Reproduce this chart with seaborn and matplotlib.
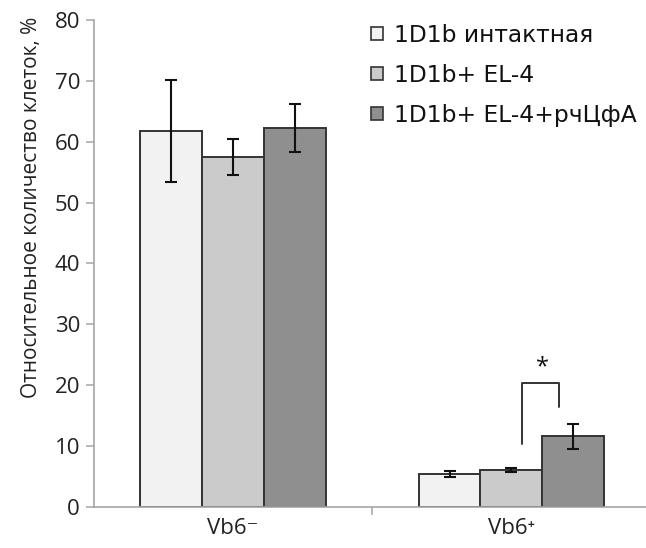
import matplotlib
matplotlib.use("Agg")
import matplotlib.pyplot as plt
import seaborn as sns
import pandas as pd
import numpy as np
from matplotlib.patches import Patch

categories = ["Vb6\u207b", "Vb6\u207a"]
groups = ["1D1b интактная", "1D1b+ EL-4", "1D1b+ EL-4+рчЦфА"]
values = {
    "1D1b интактная": [61.8, 5.4],
    "1D1b+ EL-4": [57.5, 6.0],
    "1D1b+ EL-4+рчЦфА": [62.2, 11.55],
}
errors = {
    "1D1b интактная": [8.4, 0.5],
    "1D1b+ EL-4": [2.9, 0.3],
    "1D1b+ EL-4+рчЦфА": [3.95, 2.05],
}
colors = ["#f2f2f2", "#cbcbcb", "#8f8f8f"]
yticks = [0, 10, 20, 30, 40, 50, 60, 70, 80]

rows = []
for g in groups:
    for c, v in zip(categories, values[g]):
        rows.append({"cat": c, "group": g, "val": v})
df = pd.DataFrame(rows)

sns.set_style("white")
plt.rcParams["font.family"] = ["Open Sans", "DejaVu Sans"]

fig = plt.figure(figsize=(6.46, 5.48), dpi=100)
ax = fig.add_axes([94 / 646, 1 - 506.7 / 548, (646 - 94) / 646, (506.7 - 20) / 548])

sns.barplot(data=df, x="cat", y="val", hue="group", order=categories,
            hue_order=groups, palette=colors, width=0.666, edgecolor="#333333",
            linewidth=1.4, errorbar=None, legend=False, ax=ax, saturation=1)

for cont, g in zip(ax.containers, groups):
    xs = [p.get_x() + p.get_width() / 2 for p in cont]
    ax.errorbar(xs, values[g], yerr=errors[g], fmt="none", ecolor="#111111",
                elinewidth=1.5, capsize=4.5, capthick=1.5, zorder=5)

# significance bracket
ax.plot([1.038, 1.038, 1.171, 1.171], [10.3, 20.3, 20.3, 16.35],
        color="#333333", lw=1.4, zorder=6)
ax.text(1.113, 21.0, "*", ha="center", va="bottom", fontsize=17, color="#111111")

ax.set_xlim(-0.5, 1.484)
ax.set_ylim(0, 80)
ax.set_yticks(yticks)
ax.set_xlabel("")
ax.set_ylabel("Относительное количество клеток, %", fontsize=15, color="#222222")
ax.yaxis.set_label_coords(-0.095, 0.615)

for s in ["top", "right"]:
    ax.spines[s].set_visible(False)
for s in ["left", "bottom"]:
    ax.spines[s].set_color("#a6a6a6")
    ax.spines[s].set_linewidth(1.2)

ax.tick_params(axis="y", which="major", direction="out", length=6, width=1.1,
               color="#a6a6a6", labelsize=16, labelcolor="#222222", pad=4, left=True)
ax.tick_params(axis="x", which="major", length=0, labelsize=16,
               labelcolor="#222222", pad=8)
ax.set_xticks([0.5], minor=True)
ax.tick_params(axis="x", which="minor", direction="out", length=6, width=1.1,
               color="#a6a6a6", bottom=True)

handles = [Patch(facecolor=c, edgecolor="#333333", linewidth=1.2) for c in colors]
leg = fig.legend(handles, groups, loc="upper left", bbox_to_anchor=(371 / 646, 1 - 24 / 548),
                 frameon=False, prop={"family": ["DejaVu Sans"], "size": 16.8},
                 handlelength=0.5, handleheight=0.5,
                 handletextpad=0.5, labelspacing=0.72, borderaxespad=0, borderpad=0)
for t in leg.get_texts():
    t.set_color("#111111")

fig.savefig("out.png", dpi=100)
